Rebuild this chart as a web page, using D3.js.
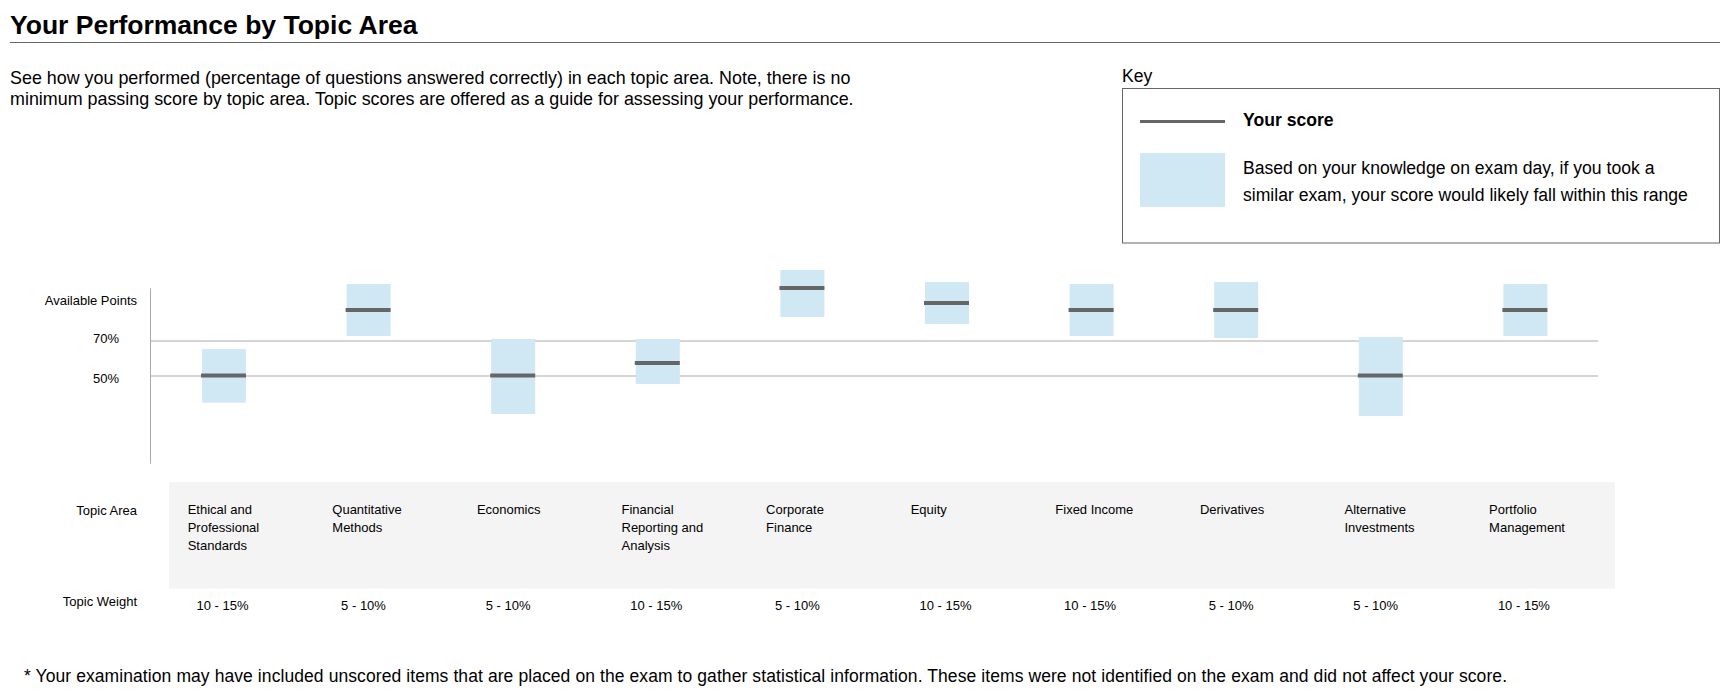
<!DOCTYPE html>
<html>
<head>
<meta charset="utf-8">
<script src="https://cdn.jsdelivr.net/npm/d3@7"></script>
<style>
  body { margin: 0; background: #fff; }
  svg text { font-family: "Liberation Sans", Arial, sans-serif; fill: #000; }
</style>
</head>
<body>
<svg id="chart" width="1731" height="691"></svg>
<script>
// data
var topics = ["Ethical and Professional Standards", "Quantitative Methods", "Economics",
  "Financial Reporting and Analysis", "Corporate Finance", "Equity", "Fixed Income",
  "Derivatives", "Alternative Investments", "Portfolio Management"];
var weights = ["10 - 15%", "5 - 10%", "5 - 10%", "10 - 15%", "5 - 10%",
  "10 - 15%", "10 - 15%", "5 - 10%", "5 - 10%", "10 - 15%"];
var scores = [50, 87.4, 50, 57.1, 100, 91.4, 87.4, 87.4, 50, 87.4];
var rangeLow = [34.5, 72.6, 28, 45.1, 83.4, 79.4, 72.6, 71.4, 26.9, 72.6];
var rangeHigh = [65.1, 102.3, 70.9, 70.9, 110.3, 103.4, 102.3, 103.4, 72, 102.3];
var gridTicks = [50, 70];

var introLines = [
  "See how you performed (percentage of questions answered correctly) in each topic area. Note, there is no",
  "minimum passing score by topic area. Topic scores are offered as a guide for assessing your performance."
];
var keyRangeLines = [
  "Based on your knowledge on exam day, if you took a",
  "similar exam, your score would likely fall within this range"
];

var svg = d3.select("#chart");
var scoreColor = "#666666", rangeColor = "#d0e7f4", gridColor = "#aaaaaa";

// titel og intro
svg.append("text").attr("x", 10).attr("y", 34)
  .style("font-size", "26.5px").style("font-weight", "bold")
  .text("Your Performance by Topic Area");
svg.append("line").attr("x1", 10).attr("x2", 1720).attr("y1", 42.5).attr("y2", 42.5)
  .attr("stroke", "#666").attr("stroke-width", 1);

svg.append("g").selectAll("text").data(introLines).join("text")
  .attr("x", 10).attr("y", function(d, i) { return 84 + i * 21; })
  .style("font-size", "17.9px").text(function(d) { return d; });

// key
svg.append("text").attr("x", 1122).attr("y", 82).style("font-size", "17.6px").text("Key");
var key = svg.append("g");
key.append("rect").attr("x", 1122.5).attr("y", 88.5).attr("width", 597).attr("height", 154.5)
  .attr("fill", "none").attr("stroke", "#666");
key.append("line").attr("x1", 1140).attr("x2", 1225).attr("y1", 121.5).attr("y2", 121.5)
  .attr("stroke", scoreColor).attr("stroke-width", 3);
key.append("text").attr("x", 1243).attr("y", 120).attr("dominant-baseline", "central")
  .style("font-size", "17.6px").style("font-weight", "bold").text("Your score");
key.append("rect").attr("x", 1140).attr("y", 153).attr("width", 85).attr("height", 54)
  .attr("fill", rangeColor);
key.selectAll("text.rng").data(keyRangeLines).join("text").attr("class", "rng")
  .attr("x", 1243).attr("y", function(d, i) { return 167.5 + i * 27.5; })
  .attr("dominant-baseline", "central").style("font-size", "17.6px")
  .text(function(d) { return d; });

// skalaer
var x = d3.scaleBand().domain(topics).range([169, 1615]).padding(0);
var y = d3.scaleLinear().domain([0, 100]).range([463, 288]);
var plotLeft = 150, plotRight = 1598;
var barW = 44;
function cx(d) { return x(d) + 55; }

// gitterlinjer + akse
var axis = svg.append("g").attr("transform", "translate(" + plotLeft + ",0)")
  .call(d3.axisLeft(y).tickValues(gridTicks).tickSize(-(plotRight - plotLeft)).tickSizeOuter(0)
    .tickPadding(31).tickFormat(function(d) { return d + "%"; }));
axis.selectAll("path, line").attr("stroke", gridColor);
axis.selectAll("text").style("font-size", "13px").style("font-family", "Liberation Sans, Arial, sans-serif")
  .attr("fill", "#000").attr("dy", function(d) { return d === 70 ? "0.15em" : "0.5em"; });
svg.append("text").attr("x", 137).attr("y", 300).attr("dominant-baseline", "central")
  .attr("text-anchor", "end").style("font-size", "13px").text("Available Points");

// intervaller og score
var bars = svg.append("g");
bars.selectAll("rect").data(topics).join("rect")
  .attr("x", function(d) { return cx(d) - barW / 2; })
  .attr("y", function(d, i) { return y(rangeHigh[i]); })
  .attr("width", barW)
  .attr("height", function(d, i) { return y(rangeLow[i]) - y(rangeHigh[i]); })
  .attr("fill", rangeColor);
bars.selectAll("line").data(topics).join("line")
  .attr("x1", function(d) { return cx(d) - barW / 2 - 1; })
  .attr("x2", function(d) { return cx(d) + barW / 2; })
  .attr("y1", function(d, i) { return y(scores[i]); })
  .attr("y2", function(d, i) { return y(scores[i]); })
  .attr("stroke", scoreColor).attr("stroke-width", 4);

// tabel med emner
svg.append("rect").attr("x", 169).attr("y", 482).attr("width", 1615 - 169).attr("height", 106.5)
  .attr("fill", "#f4f4f4");
svg.append("text").attr("x", 137).attr("y", 510).attr("dominant-baseline", "central")
  .attr("text-anchor", "end").style("font-size", "13px").text("Topic Area");
svg.append("text").attr("x", 137).attr("y", 601).attr("dominant-baseline", "central")
  .attr("text-anchor", "end").style("font-size", "13px").text("Topic Weight");

function wrap(sel, width) {
  sel.each(function() {
    var t = d3.select(this), words = t.text().split(" "), line = [];
    var xx = t.attr("x");
    t.text(null);
    var ts = t.append("tspan").attr("x", xx).attr("dy", 0);
    words.forEach(function(w) {
      line.push(w);
      ts.text(line.join(" "));
      if (ts.node().getComputedTextLength() > width && line.length > 1) {
        line.pop();
        ts.text(line.join(" "));
        line = [w];
        ts = t.append("tspan").attr("x", xx).attr("dy", 18).text(w);
      }
    });
  });
}

svg.append("g").selectAll("text").data(topics).join("text")
  .attr("x", function(d) { return x(d) + 18.7; })
  .attr("y", 514)
  .style("font-size", "13px")
  .text(function(d) { return d; })
  .call(wrap, 100);

svg.append("g").selectAll("text").data(topics).join("text")
  .attr("x", function(d) { return x(d) + 27.5; })
  .attr("y", 605).attr("dominant-baseline", "central")
  .style("font-size", "13px")
  .text(function(d, i) { return weights[i]; });

// fodnote
svg.append("text").attr("x", 24).attr("y", 682).style("font-size", "17.5px")
  .attr("textLength", 1483).attr("lengthAdjust", "spacing")
  .text("* Your examination may have included unscored items that are placed on the exam to gather statistical information. These items were not identified on the exam and did not affect your score.");
</script>
</body>
</html>
